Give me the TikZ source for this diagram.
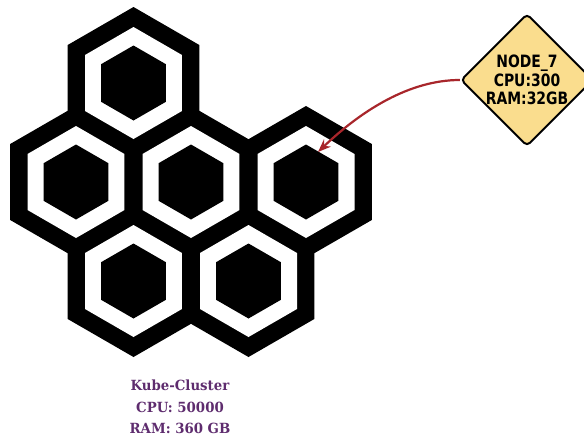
\documentclass[tikz,border=0pt]{standalone}
\usepackage{fontspec}
\usetikzlibrary{shapes.geometric,arrows.meta}
\newfontfamily\nodefont{DejaVu Sans}[FakeStretch=0.82]
\newfontfamily\labelfont{DejaVu Serif}[FakeStretch=0.95]
\definecolor{diamondfill}{RGB}{250,221,142}
\definecolor{arrowred}{RGB}{168,38,43}
\definecolor{labelpurple}{RGB}{94,44,110}
\begin{document}
\begin{tikzpicture}[x=1pt,y=-1pt,
  infobox/.style={diamond, draw=black, line width=2pt, fill=diamondfill,
    minimum width=128pt, minimum height=130pt, inner sep=0pt, rounded corners=4pt,
    align=center, font=\nodefont\bfseries\fontsize{17}{18.5}\selectfont},
  linkarrow/.style={draw=arrowred, line width=2.2pt, -{Stealth[length=13pt,width=10pt]}},
  clusterlabel/.style={align=center, text=labelpurple,
    font=\labelfont\bfseries\fontsize{14}{21.5}\selectfont}]
\useasboundingbox (0,0) rectangle (584,437);
% hexagon centres
\foreach \n/\cx/\cy in {T/133.5/83, L/76/182, C/191/182, R/306/182, BL/133.5/281, BR/248.5/281}{
  \coordinate (hex\n) at (\cx,\cy);
}
% outer black
\foreach \cx/\cy in {133.5/83, 76/182, 191/182, 306/182, 133.5/281, 248.5/281}{
  \fill[black] (\cx,\cy) ++(90:76) -- ++(210:76) -- ++(270:76) -- ++(330:76) -- ++(30:76) -- ++(90:76) -- cycle;
}
% white ring
\foreach \cx/\cy in {133.5/83, 76/182, 191/182, 306/182, 133.5/281, 248.5/281}{
  \fill[white] (\cx,\cy) ++(90:56) -- ++(210:56) -- ++(270:56) -- ++(330:56) -- ++(30:56) -- ++(90:56) -- cycle;
}
% inner black
\foreach \cx/\cy in {133.5/83, 76/182, 191/182, 306/182, 133.5/281, 248.5/281}{
  \fill[black] (\cx,\cy) ++(90:37.5) -- ++(210:37.5) -- ++(270:37.5) -- ++(330:37.5) -- ++(30:37.5) -- ++(90:37.5) -- cycle;
}
\node[infobox] (node7) at (527,80) {NODE\_7\\CPU:300\\RAM:32GB};
\coordinate (target) at (318,152);
\draw[linkarrow] (node7.west) .. controls (410,80) and (362,110) .. (target);
\node[clusterlabel] (cluster) at (180,407) {Kube-Cluster\\CPU: 50000\\RAM: 360 GB};
\end{tikzpicture}
\end{document}
